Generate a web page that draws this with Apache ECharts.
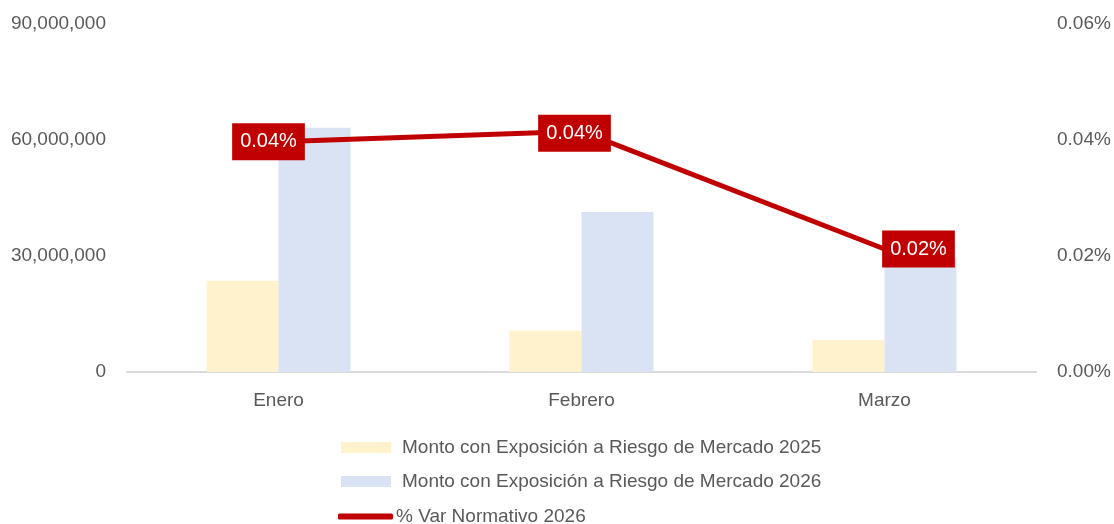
<!DOCTYPE html>
<html>
<head>
<meta charset="utf-8">
<script src="https://cdn.jsdelivr.net/npm/echarts@6/dist/echarts.min.js"></script>
<style>html,body{margin:0;padding:0;background:#fff}#c{width:1114px;height:524px}</style>
</head>
<body>
<div id="c"></div>
<script>
const categories = ['Enero', 'Febrero', 'Marzo'];
const monto2025 = [23600000, 10700000, 8300000];
const monto2026 = [63200000, 41400000, 29400000];
const varNormativo2026 = [0.0397, 0.0415, 0.0212];
const leftTicks = [0, 30000000, 60000000, 90000000];
const rightTicks = [0, 0.02, 0.04, 0.06];
const seriesNames = [
  'Monto con Exposición a Riesgo de Mercado 2025',
  'Monto con Exposición a Riesgo de Mercado 2026',
  '% Var Normativo 2026'
];

const FONT = '"Liberation Sans", Arial, sans-serif';
const TXT = '#595959';
const labelOffsets = [[-10, 0], [-7, 2], [34, 0]];

const chart = echarts.init(document.getElementById('c'), null, {renderer: 'canvas'});
chart.setOption({
  animation: false,
  textStyle: {fontFamily: FONT},
  grid: {left: 127, right: 78, top: 24, bottom: 152, containLabel: false, outerBoundsMode: 'none'},
  legend: [{
    orient: 'vertical', left: 341, top: 438, padding: 0,
    itemWidth: 50, itemHeight: 11, itemGap: 15,
    icon: 'rect',
    data: [seriesNames[0], seriesNames[1]],
    textStyle: {fontFamily: FONT, fontSize: 19, color: TXT, padding: [0, 0, 0, 6]}
  }, {
    orient: 'vertical', left: 338, top: 507, padding: 0,
    itemWidth: 55, itemHeight: 6,
    icon: 'roundRect',
    data: [seriesNames[2]],
    textStyle: {fontFamily: FONT, fontSize: 19, color: TXT, padding: [0, 0, 0, -2]}
  }],
  xAxis: {
    type: 'category', data: categories,
    axisLine: {lineStyle: {color: '#D9D9D9', width: 2}},
    axisTick: {show: false},
    axisLabel: {color: TXT, fontSize: 19, fontFamily: FONT, margin: 19}
  },
  yAxis: [{
    type: 'value', min: leftTicks[0], max: leftTicks[leftTicks.length - 1], interval: leftTicks[1] - leftTicks[0],
    splitLine: {show: false}, axisLine: {show: false}, axisTick: {show: false},
    axisLabel: {color: TXT, fontSize: 19, fontFamily: FONT, margin: 21,
      formatter: v => v.toLocaleString('en-US')}
  }, {
    type: 'value', min: rightTicks[0], max: rightTicks[rightTicks.length - 1], interval: rightTicks[1] - rightTicks[0],
    splitLine: {show: false}, axisLine: {show: false}, axisTick: {show: false},
    axisLabel: {color: TXT, fontSize: 19, fontFamily: FONT, margin: 21,
      formatter: v => v.toFixed(2) + '%'}
  }],
  series: [{
    name: seriesNames[0], type: 'bar', data: monto2025, yAxisIndex: 0,
    barWidth: 72, barGap: '0%',
    itemStyle: {color: '#FFF2CC'}
  }, {
    name: seriesNames[1], type: 'bar', data: monto2026, yAxisIndex: 0,
    barWidth: 72, barGap: '0%',
    itemStyle: {color: '#DAE3F3'}
  }, {
    name: seriesNames[2], type: 'line', yAxisIndex: 1,
    data: varNormativo2026.map((v, i) => ({value: v, label: {offset: labelOffsets[i]}})),
    symbol: 'circle', symbolSize: 1, showSymbol: true, z: 5,
    lineStyle: {color: '#C00000', width: 5},
    itemStyle: {color: '#C00000'},
    label: {
      show: true, position: 'inside',
      formatter: p => p.value.toFixed(2) + '%',
      color: '#fff', fontSize: 20, fontFamily: FONT,
      backgroundColor: '#C00000', padding: [9, 8, 8, 8]
    }
  }]
});
</script>
</body>
</html>
